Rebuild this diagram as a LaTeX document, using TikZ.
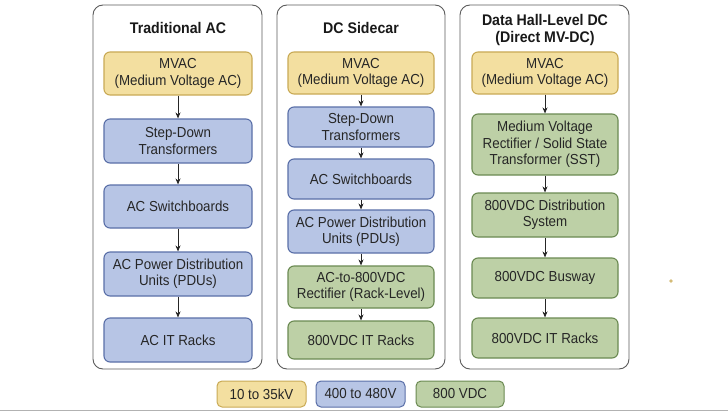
\documentclass[tikz,border=0pt]{standalone}
\usepackage{fontspec}
\setmainfont[FakeStretch=0.92]{Liberation Sans}
\usetikzlibrary{arrows.meta}
\definecolor{yfill}{HTML}{F3DFA0}
\definecolor{ydraw}{HTML}{C9AA55}
\definecolor{bfill}{HTML}{B7C5E5}
\definecolor{bdraw}{HTML}{5A6FA8}
\definecolor{gfill}{HTML}{BDD0A6}
\definecolor{gdraw}{HTML}{6B8A52}
\definecolor{pdraw}{HTML}{5C5C5C}
\tikzset{
  panel/.style={draw=pdraw, line width=0.9pt, rounded corners=10pt, fill=white, minimum width=169pt, minimum height=364pt, inner sep=0pt},
  box/.style={rounded corners=6pt, line width=1.1pt, align=center, inner sep=1pt, font=\fontsize{14.5}{16.3}\selectfont, text=black!85},
  ybox/.style={box, fill=yfill, draw=ydraw},
  bbox/.style={box, fill=bfill, draw=bdraw},
  gbox/.style={box, fill=gfill, draw=gdraw},
  w1/.style={minimum width=148pt},
  w2/.style={minimum width=146pt},
  ttl/.style={font=\fontsize{15.4}{17.5}\selectfont\bfseries, align=center, text=black!90},
  arr/.style={-{Stealth[length=6pt,width=5pt]}, line width=0.8pt, black!85},
  leg/.style={rounded corners=5pt, line width=1pt, font=\fontsize{14.5}{16}\selectfont, minimum height=26pt, inner sep=0pt, text=black!85}
}
\begin{document}
\begin{tikzpicture}[x=1pt,y=-1pt]
\useasboundingbox[fill=white] (0,0) rectangle (728,412);
% panels
\node[panel] (p1) at (177.5,187) {};
\node[panel, minimum width=168pt] (p2) at (361,187) {};
\node[panel] (p3) at (544.5,187) {};
\node[ttl] (t1) at (178,28) {Traditional AC};
\node[ttl] (t2) at (361,28) {DC Sidecar};
\node[ttl] (t3) at (545,30) {Data Hall-Level DC\\(Direct MV-DC)};
% panel 1
\node[ybox,w1,minimum height=43pt] (a1) at (178,73.5) {MVAC\\(Medium Voltage AC)};
\node[bbox,w1,minimum height=44pt] (a2) at (178,141) {Step-Down\\Transformers};
\node[bbox,w1,minimum height=43pt] (a3) at (178,206.5) {AC Switchboards};
\node[bbox,w1,minimum height=44pt] (a4) at (178,274) {AC Power Distribution\\Units (PDUs)};
\node[bbox,w1,minimum height=44pt] (a5) at (178,340) {AC IT Racks};
% panel 2
\node[ybox,w2,minimum height=42pt] (b1) at (361,73) {MVAC\\(Medium Voltage AC)};
\node[bbox,w2,minimum height=40pt] (b2) at (361,127) {Step-Down\\Transformers};
\node[bbox,w2,minimum height=40pt] (b3) at (361,179) {AC Switchboards};
\node[bbox,w2,minimum height=43pt] (b4) at (361,231.5) {AC Power Distribution\\Units (PDUs)};
\node[gbox,w2,minimum height=42pt] (b5) at (361,287) {AC-to-800VDC\\Rectifier (Rack-Level)};
\node[gbox,w2,minimum height=38pt] (b6) at (361,340) {800VDC IT Racks};
% panel 3
\node[ybox,w2,minimum height=42pt] (c1) at (545,73) {MVAC\\(Medium Voltage AC)};
\node[gbox,w2,minimum height=61pt] (c2) at (545,144.5) {Medium Voltage\\Rectifier / Solid State\\Transformer (SST)};
\node[gbox,w2,minimum height=44pt] (c3) at (545,215) {800VDC Distribution\\System};
\node[gbox,w2,minimum height=40pt] (c4) at (545,278) {800VDC Busway};
\node[gbox,w2,minimum height=40pt] (c5) at (545,338) {800VDC IT Racks};
% arrows
\foreach \u/\v in {a1/a2,a2/a3,a3/a4,a4/a5,b1/b2,b2/b3,b3/b4,b4/b5,b5/b6,c1/c2,c2/c3,c3/c4,c4/c5}
  \draw[arr] (\u) -- (\v);
% legend
\node[leg, fill=yfill, draw=ydraw, minimum width=89pt] (l1) at (261.5,394) {10 to 35kV};
\node[leg, fill=bfill, draw=bdraw, minimum width=89pt] (l2) at (360.5,394) {400 to 480V};
\node[leg, fill=gfill, draw=gdraw, minimum width=88pt] (l3) at (460,394) {800 VDC};
% stray dot and bottom rule
\fill[ydraw!80] (671,281) circle (1.8pt);
\coordinate (r1) at (0,410.5);
\coordinate (r2) at (728,410.5);
\draw[black!30, line width=0.8pt] (r1) -- (r2);
\end{tikzpicture}
\end{document}
